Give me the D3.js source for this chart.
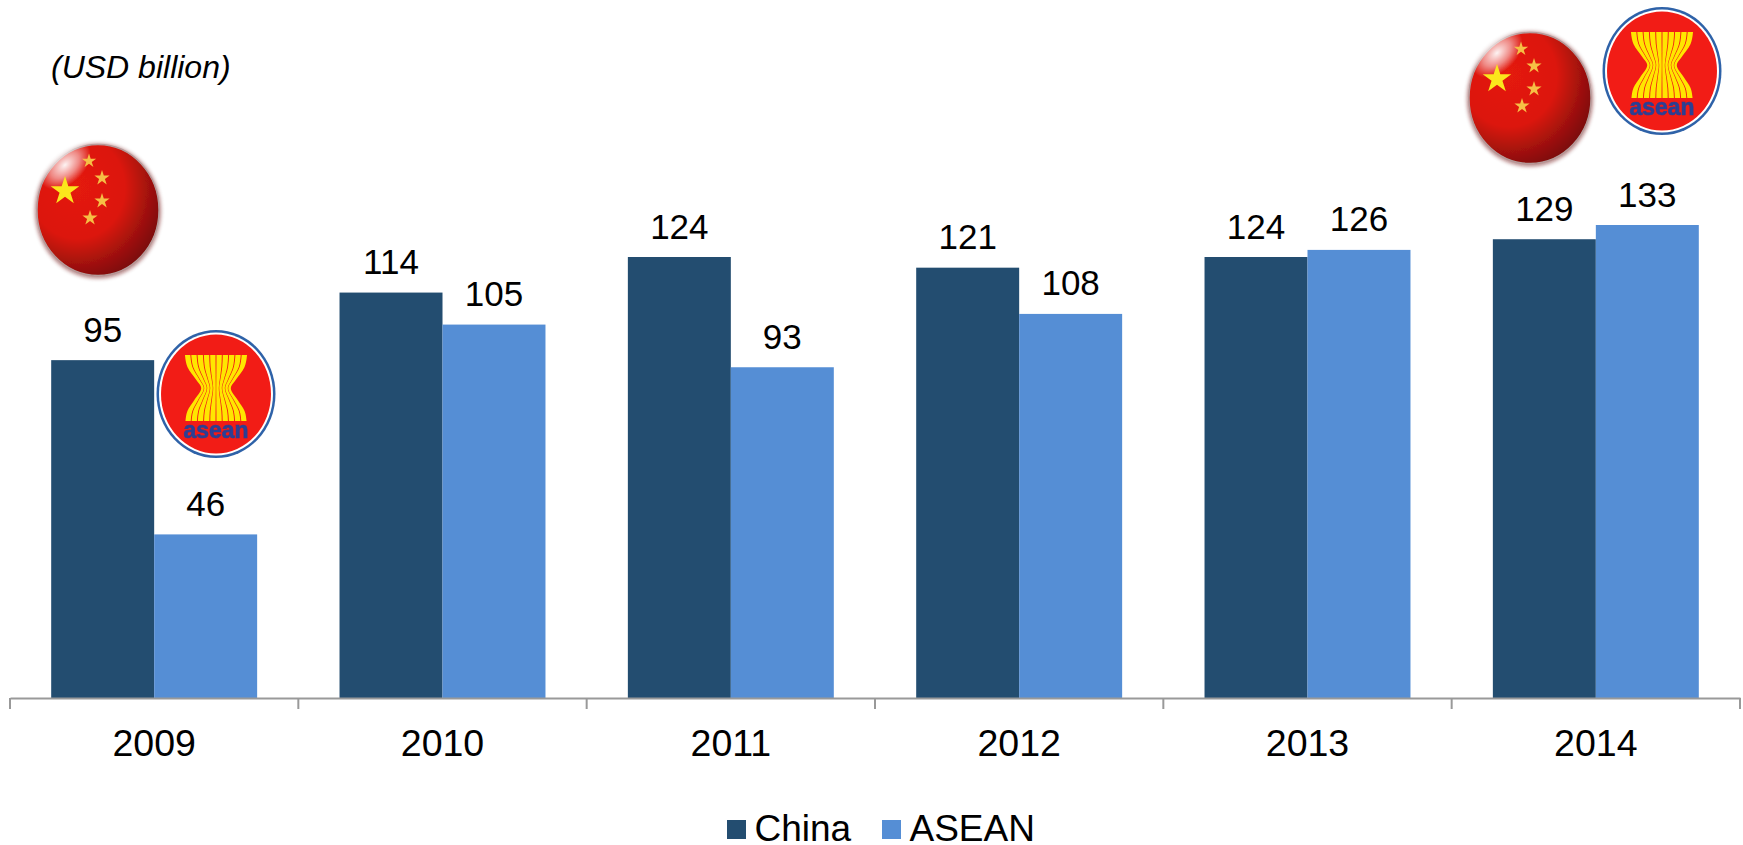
<!DOCTYPE html>
<html lang="en">
<head>
<meta charset="UTF-8">
<title>China and ASEAN</title>
<script src="https://cdn.jsdelivr.net/npm/d3@7"></script>
<style>
    html, body { margin: 0; padding: 0; background: #fff; }
    svg { display: block; }
    text { font-family: "Liberation Sans", Arial, sans-serif; fill: #000; }
</style>
</head>
<body>
<svg id="svg"></svg>
<script>
    const years = ['2009', '2010', '2011', '2012', '2013', '2014'];
    const seriesNames = ['China', 'ASEAN'];
    const chinaValues = [95, 114, 124, 121, 124, 129];
    const aseanValues = [46, 105, 93, 108, 126, 133];
    const unitLabel = '(USD billion)';
    const seriesColors = ['#234d70', '#558ed5'];

    const width = 1743;
    const height = 845;
    const baseY = 698;

    const svg = d3.select('#svg').attr('width', width).attr('height', height);
    const defs = svg.append('defs');

    const x = d3.scaleBand().domain(years).range([10, 1740]);
    const x1 = d3.scaleBand().domain(seriesNames).range([0, x.bandwidth()]).paddingOuter(0.4);
    const y = d3.scaleLinear().domain([0, 133]).range([baseY, 225]);
    const color = d3.scaleOrdinal(seriesNames, seriesColors);

    const rows = seriesNames.flatMap((s, k) => {
        const vals = k === 0 ? chinaValues : aseanValues;
        return years.map((yr, i) => ({ year: yr, series: s, value: vals[i] }));
    });

    svg.selectAll('rect.bar')
        .data(rows)
        .enter()
        .append('rect')
        .attr('class', 'bar')
        .attr('x', d => x(d.year) + x1(d.series))
        .attr('y', d => y(d.value))
        .attr('width', x1.bandwidth())
        .attr('height', d => baseY - y(d.value))
        .attr('fill', d => color(d.series));

    svg.selectAll('text.value')
        .data(rows)
        .enter()
        .append('text')
        .attr('class', 'value')
        .attr('x', d => x(d.year) + x1(d.series) + x1.bandwidth() / 2)
        .attr('y', d => y(d.value) - 18.5)
        .attr('text-anchor', 'middle')
        .attr('font-size', 35)
        .text(d => d.value);

    // axis: labels from the band scale, ticks sit on the band edges
    const axis = svg.append('g')
        .attr('transform', `translate(0,${baseY})`)
        .call(d3.axisBottom(x).tickSize(0).tickPadding(31));
    axis.select('.domain').attr('stroke', '#999').attr('stroke-width', 2);
    axis.selectAll('.tick text').attr('font-size', 37.5).attr('font-family', null);

    const edges = years.map(yr => x(yr)).concat([x.range()[1]]);
    axis.selectAll('line.edge')
        .data(edges)
        .enter()
        .append('line')
        .attr('class', 'edge')
        .attr('x1', d => d).attr('x2', d => d)
        .attr('y1', 0).attr('y2', 11)
        .attr('stroke', '#999')
        .attr('stroke-width', 2);

    svg.append('text')
        .attr('x', 51).attr('y', 77.5)
        .attr('font-size', 32)
        .attr('font-style', 'italic')
        .text(unitLabel);

    // legend
    const legendX = d3.scaleOrdinal(seriesNames, [727, 882]);
    const legend = svg.selectAll('g.legend')
        .data(seriesNames)
        .enter()
        .append('g')
        .attr('class', 'legend')
        .attr('transform', d => `translate(${legendX(d)},820)`);
    legend.append('rect').attr('width', 19).attr('height', 19).attr('fill', d => color(d));
    legend.append('text').attr('x', 27.5).attr('y', 21).attr('font-size', 37).text(d => d);

    // logos
    const blur = defs.append('filter').attr('id', 'soft');
    blur.append('feGaussianBlur').attr('stdDeviation', 0.6);
    const halo = defs.append('filter').attr('id', 'halo')
        .attr('x', '-20%').attr('y', '-20%').attr('width', '140%').attr('height', '140%');
    halo.append('feGaussianBlur').attr('stdDeviation', 2);

    const redGrad = defs.append('radialGradient').attr('id', 'flagRed')
        .attr('cx', '0.33').attr('cy', '0.33').attr('r', '0.78');
    redGrad.append('stop').attr('offset', '0').attr('stop-color', '#e41a10');
    redGrad.append('stop').attr('offset', '0.5').attr('stop-color', '#dc170d');
    redGrad.append('stop').attr('offset', '0.72').attr('stop-color', '#a8120a');
    redGrad.append('stop').attr('offset', '0.95').attr('stop-color', '#7a0c07');
    redGrad.append('stop').attr('offset', '1').attr('stop-color', '#640906');

    const shine = defs.append('radialGradient').attr('id', 'flagShine');
    shine.append('stop').attr('offset', '0').attr('stop-color', '#fff').attr('stop-opacity', 0.95);
    shine.append('stop').attr('offset', '0.55').attr('stop-color', '#fff').attr('stop-opacity', 0.5);
    shine.append('stop').attr('offset', '1').attr('stop-color', '#fff').attr('stop-opacity', 0);

    // symbolStar size for a given outer radius
    const star = r => d3.symbol(d3.symbolStar, r * r / 0.8908)();

    function drawFlag(cx, cy) {
        const g = svg.append('g').attr('transform', `translate(${cx},${cy})`);
        g.append('ellipse').attr('cy', 1).attr('rx', 62.5).attr('ry', 67)
            .attr('fill', '#6a1010').attr('opacity', 0.6).attr('filter', 'url(#halo)');
        g.append('ellipse').attr('rx', 61).attr('ry', 65.5)
            .attr('fill', 'url(#flagRed)').attr('stroke', '#b59a9a').attr('stroke-width', 1.4)
            .attr('filter', 'url(#soft)');
        g.append('ellipse').attr('cx', -33).attr('cy', -45).attr('rx', 30).attr('ry', 19)
            .attr('transform', 'rotate(-42 -33 -45)').attr('fill', 'url(#flagShine)');
        const stars = [[-33, -19, 15], [-9, -49, 7.5], [4, -32, 8], [4, -9, 8], [-8, 8, 8]];
        g.selectAll('path')
            .data(stars)
            .enter()
            .append('path')
            .attr('d', d => star(d[2]))
            .attr('transform', d => `translate(${d[0]},${d[1]})`)
            .attr('fill', (d, i) => i === 0 ? '#fbe61c' : '#f6bf45')
            .attr('filter', 'url(#soft)');
    }

    // half width of the sheaf at each height, emblem units
    const sheafY = [-39, -27, -14, -6, 6, 17, 27];
    const sheafW = [31.5, 29, 20, 15, 22, 29, 31];

    function drawAsean(cx, cy) {
        const g = svg.append('g').attr('transform', `translate(${cx},${cy})`).attr('filter', 'url(#soft)');
        g.append('ellipse').attr('rx', 59.5).attr('ry', 64).attr('fill', '#2f62a8');
        g.append('ellipse').attr('rx', 57).attr('ry', 61.5).attr('fill', '#fff');
        g.append('ellipse').attr('rx', 55).attr('ry', 59.5).attr('fill', '#f21c14');
        d3.range(10).forEach(i => {
            const t = (i - 4.5) / 5;
            const stalk = d3.area()
                .curve(d3.curveMonotoneY)
                .y((d, k) => sheafY[k])
                .x0(d => d * (t - 0.085))
                .x1(d => d * (t + 0.085));
            g.append('path').attr('d', stalk(sheafW)).attr('fill', '#ffe600');
        });
        g.append('text')
            .attr('y', 44).attr('text-anchor', 'middle')
            .attr('font-size', 23).attr('font-weight', 'bold')
            .attr('textLength', 65).attr('lengthAdjust', 'spacingAndGlyphs')
            .attr('stroke', '#2b3f94').attr('stroke-width', 0.6)
            .style('fill', '#2b3f94')
            .text('asean');
    }

    drawFlag(98, 210);
    drawFlag(1530, 98);
    drawAsean(216, 394);
    drawAsean(1662, 71);
</script>
</body>
</html>
